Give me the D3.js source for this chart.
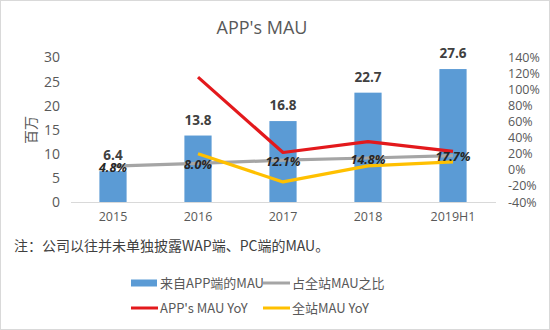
<!DOCTYPE html>
<html><head><meta charset="utf-8">
<script src="https://cdn.jsdelivr.net/npm/d3@7/dist/d3.min.js"></script>
<style>body{margin:0;background:#fff}svg{display:block}</style>
</head><body>
<svg id="c" width="550" height="330"></svg>
<script>
const categories = ["2015","2016","2017","2018","2019H1"];
const appMAU = [6.4, 13.8, 16.8, 22.7, 27.6];
const shareOfSite = [4.8, 8.0, 12.1, 14.8, 17.7];
const shareLabels = ["4.8%","8.0%","12.1%","14.8%","17.7%"];
const appYoY = [null, 115.6, 21.7, 35.1, 23];
const siteYoY = [null, 20, -15, 5, 10];
const leftTicks = [0,5,10,15,20,25,30];
const rightTicks = [-40,-20,0,20,40,60,80,100,120,140];

const svg = d3.select("#c");
const font = "'Open Sans','Noto Sans CJK SC',sans-serif";
const cjk = "'Noto Sans CJK SC','Open Sans',sans-serif";
svg.append("rect").attr("x",0.5).attr("y",0.5).attr("width",549).attr("height",329)
  .attr("fill","#fff").attr("stroke","#d9d9d9");

const plotTop = 57.5, plotBottom = 202;
const x = d3.scaleBand().domain(categories).range([70.5,495.5]).paddingInner(0.68).paddingOuter(0.34);
const yL = d3.scaleLinear().domain([0,30]).range([plotBottom, plotTop]);
const yR = d3.scaleLinear().domain([-40,140]).range([plotBottom, plotTop]);
const cx = d => x(d) + x.bandwidth()/2;

svg.append("text").attr("x",262).attr("y",34).attr("text-anchor","middle")
  .attr("font-family",font).attr("font-size",18).attr("fill","#595959").text("APP's MAU");

const gL = svg.append("g").attr("transform","translate(66,0)")
  .call(d3.axisLeft(yL).tickValues(leftTicks).tickSize(0).tickPadding(6));
gL.select(".domain").remove();
gL.selectAll("text").attr("font-family",font).attr("font-size",14).attr("fill","#595959");

const gR = svg.append("g").attr("transform","translate(502,0)")
  .call(d3.axisRight(yR).tickValues(rightTicks).tickSize(0).tickPadding(6).tickFormat(d=>d+"%"));
gR.select(".domain").remove();
gR.selectAll("text").attr("font-family",font).attr("font-size",12.5).attr("fill","#595959");

svg.append("text").attr("transform","translate(36,130) rotate(-90)").attr("text-anchor","middle")
  .attr("font-family",cjk).attr("font-size",14).attr("fill","#595959").text("百万");

svg.selectAll("rect.bar").data(categories).enter().append("rect").attr("class","bar")
  .attr("x",d=>x(d)).attr("width",x.bandwidth())
  .attr("y",(d,i)=>yL(appMAU[i])).attr("height",(d,i)=>plotBottom-yL(appMAU[i]))
  .attr("fill","#5B9BD5");

const gX = svg.append("g").attr("transform",`translate(0,${plotBottom})`)
  .call(d3.axisBottom(x).tickSize(0).tickPadding(10));
gX.select(".domain").attr("stroke","#d9d9d9");
gX.selectAll("text").attr("font-family",font).attr("font-size",12.5).attr("fill","#595959");

function drawLine(vals, color){
  const pts = categories.map((c,i)=>[c,vals[i]]).filter(p=>p[1]!==null);
  svg.append("path").datum(pts)
    .attr("d", d3.line().x(p=>cx(p[0])).y(p=>yR(p[1])))
    .attr("fill","none").attr("stroke",color).attr("stroke-width",3.2).attr("stroke-linejoin","round");
}
drawLine(shareOfSite, "#A5A5A5");
drawLine(siteYoY, "#FFC000");
drawLine(appYoY, "#E3191C");

svg.selectAll("text.bv").data(categories).enter().append("text").attr("class","bv")
  .attr("x",d=>cx(d)).attr("y",(d,i)=>yL(appMAU[i])-11).attr("text-anchor","middle")
  .attr("font-family",font).attr("font-size",13.5).attr("font-weight","bold").attr("fill","#404040")
  .text((d,i)=>appMAU[i].toFixed(1));

svg.selectAll("text.sv").data(categories).enter().append("text").attr("class","sv")
  .attr("x",d=>cx(d)).attr("y",(d,i)=>yR(shareOfSite[i])+5.5).attr("text-anchor","middle")
  .attr("font-family",font).attr("font-size",12.5).attr("font-weight","bold").attr("font-style","italic").attr("fill","#262626")
  .text((d,i)=>shareLabels[i]);

svg.append("text").attr("x",14).attr("y",251).attr("font-family",cjk).attr("font-size",14).attr("fill","#404040")
  .text("注：公司以往并未单独披露WAP端、PC端的MAU。");

const legend = [
  {name:"来自APP端的MAU", color:"#5B9BD5", type:"bar", x:131, y:283},
  {name:"占全站MAU之比", color:"#A5A5A5", type:"line", x:263, y:283},
  {name:"APP's MAU YoY", color:"#E3191C", type:"line", x:131, y:308},
  {name:"全站MAU YoY", color:"#FFC000", type:"line", x:263, y:308}
];
const lg = svg.selectAll("g.lg").data(legend).enter().append("g").attr("class","lg")
  .attr("transform",d=>`translate(${d.x},${d.y})`);
lg.each(function(d){
  const g = d3.select(this);
  if(d.type==="bar") g.append("rect").attr("x",0).attr("y",-3.5).attr("width",26).attr("height",7).attr("fill",d.color);
  else g.append("line").attr("x1",0).attr("x2",27).attr("y1",0).attr("y2",0).attr("stroke",d.color).attr("stroke-width",3);
  g.append("text").attr("x",29).attr("y",5).attr("font-family",cjk).attr("font-size",13).attr("fill","#595959").text(d.name);
});
</script>
</body></html>
